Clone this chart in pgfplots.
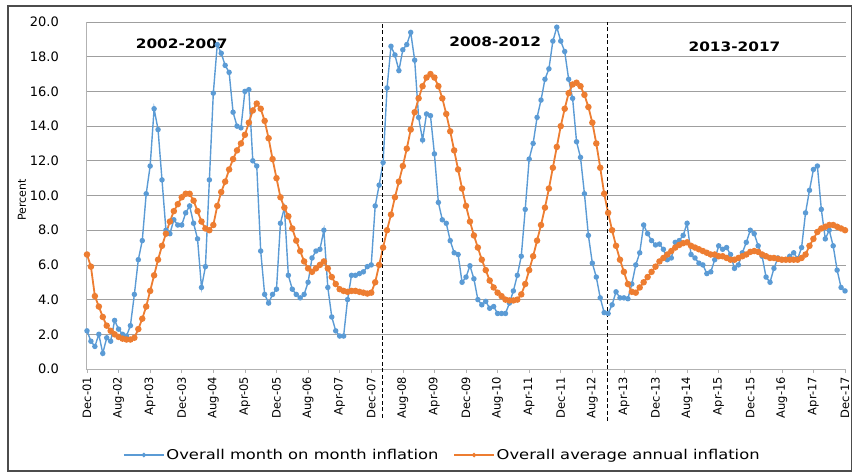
\documentclass[border=0pt]{standalone}
\usepackage{fontspec}
\setmainfont{DejaVu Sans}
\newfontfamily\widefont{DejaVu Sans}[FakeStretch=1.21]
\newfontfamily\titlefont{DejaVu Sans}[FakeStretch=1.18]
\usepackage{pgfplots}
\usepackage{pgfplotstable}
\pgfplotsset{compat=1.18}
\definecolor{cblue}{HTML}{5B9BD5}
\definecolor{corange}{HTML}{ED7D31}

\pgfplotstableread{
m mom avg
0 2.2 6.6
1 1.6 5.9
2 1.3 4.2
3 2.0 3.6
4 0.9 3.0
5 1.8 2.5
6 1.6 2.2
7 2.8 2.0
8 2.3 1.85
9 2.0 1.75
10 1.9 1.7
11 2.5 1.7
12 4.3 1.8
13 6.3 2.3
14 7.4 2.9
15 10.1 3.6
16 11.7 4.5
17 15.0 5.4
18 13.8 6.3
19 10.9 7.1
20 8.0 7.8
21 7.8 8.5
22 8.6 9.1
23 8.3 9.5
24 8.3 9.9
25 9.0 10.1
26 9.4 10.1
27 8.4 9.7
28 7.5 9.1
29 4.7 8.5
30 5.9 8.1
31 10.9 8.0
32 15.9 8.3
33 18.7 9.4
34 18.2 10.2
35 17.5 10.8
36 17.1 11.5
37 14.8 12.1
38 14.0 12.6
39 13.9 13.0
40 16.0 13.5
41 16.1 14.2
42 12.0 14.9
43 11.7 15.3
44 6.8 15.0
45 4.3 14.3
46 3.8 13.3
47 4.3 12.1
48 4.6 11.0
49 8.4 9.9
50 9.3 9.3
51 5.4 8.8
52 4.6 8.1
53 4.3 7.4
54 4.1 6.8
55 4.3 6.2
56 5.0 5.8
57 6.4 5.6
58 6.8 5.8
59 6.9 6.0
60 8.0 6.2
61 4.7 5.8
62 3.0 5.3
63 2.2 4.9
64 1.9 4.6
65 1.9 4.5
66 4.0 4.45
67 5.4 4.5
68 5.4 4.5
69 5.5 4.45
70 5.6 4.4
71 5.9 4.35
72 6.0 4.4
73 9.4 5.0
74 10.6 6.0
75 11.9 7.0
76 16.2 8.0
77 18.6 8.9
78 18.1 9.9
79 17.2 10.8
80 18.4 11.7
81 18.7 12.7
82 19.4 13.8
83 17.8 14.8
84 14.5 15.6
85 13.2 16.3
86 14.7 16.8
87 14.6 17.0
88 12.4 16.8
89 9.6 16.3
90 8.6 15.6
91 8.4 14.7
92 7.4 13.7
93 6.7 12.6
94 6.6 11.5
95 5.0 10.4
96 5.3 9.4
97 5.95 8.5
98 5.2 7.7
99 4.0 7.0
100 3.7 6.3
101 3.9 5.7
102 3.5 5.1
103 3.6 4.7
104 3.2 4.4
105 3.2 4.2
106 3.2 4.0
107 3.8 3.95
108 4.5 3.95
109 5.4 4.0
110 6.5 4.3
111 9.2 4.9
112 12.1 5.7
113 13.0 6.5
114 14.5 7.4
115 15.5 8.3
116 16.7 9.3
117 17.3 10.4
118 18.9 11.6
119 19.7 12.8
120 18.9 14.0
121 18.3 15.0
122 16.7 15.9
123 15.6 16.4
124 13.1 16.5
125 12.2 16.3
126 10.1 15.8
127 7.7 15.1
128 6.1 14.2
129 5.3 13.0
130 4.1 11.6
131 3.25 10.1
132 3.2 9.0
133 3.7 8.0
134 4.45 7.1
135 4.1 6.3
136 4.1 5.6
137 4.05 4.9
138 4.9 4.45
139 6.0 4.4
140 6.7 4.7
141 8.3 5.0
142 7.8 5.3
143 7.4 5.6
144 7.15 5.9
145 7.2 6.2
146 6.9 6.4
147 6.3 6.6
148 6.4 6.8
149 7.3 7.0
150 7.4 7.15
151 7.7 7.25
152 8.4 7.3
153 6.6 7.1
154 6.4 7.0
155 6.1 6.9
156 6.0 6.8
157 5.5 6.7
158 5.6 6.6
159 6.3 6.6
160 7.1 6.5
161 6.9 6.5
162 7.0 6.4
163 6.6 6.3
164 5.8 6.3
165 6.0 6.4
166 6.7 6.5
167 7.3 6.6
168 8.0 6.75
169 7.8 6.8
170 7.1 6.75
171 6.5 6.6
172 5.3 6.5
173 5.0 6.4
174 5.8 6.4
175 6.4 6.35
176 6.3 6.3
177 6.3 6.3
178 6.5 6.3
179 6.7 6.3
180 6.35 6.3
181 7.0 6.4
182 9.0 6.6
183 10.3 7.1
184 11.5 7.5
185 11.7 7.9
186 9.2 8.1
187 7.5 8.2
188 8.0 8.3
189 7.1 8.3
190 5.7 8.2
191 4.7 8.1
192 4.5 8.0
}\datatable

\begin{document}
\begin{tikzpicture}
\useasboundingbox (-86pt,-106pt) rectangle (767pt,369pt);
\draw[line width=1.2pt, black!70] (-78pt,-102pt) rectangle (765.5pt,363pt);
\begin{axis}[
  at={(0pt,0pt)}, anchor=south west,
  scale only axis, width=760pt, height=347pt,
  xmin=-0.25, xmax=192.25, ymin=0, ymax=20,
  clip=false,
  axis x line*=bottom, axis y line*=left,
  axis line style={gray!60, line width=0.8pt, -},
  xtick={0,8,...,192},
  xticklabels={Dec-01,Aug-02,Apr-03,Dec-03,Aug-04,Apr-05,Dec-05,Aug-06,Apr-07,Dec-07,Aug-08,Apr-09,Dec-09,Aug-10,Apr-11,Dec-11,Aug-12,Apr-13,Dec-13,Aug-14,Apr-15,Dec-15,Aug-16,Apr-17,Dec-17},
  xtick style={gray!60, line width=0.6pt},
  major tick length=4pt,
  xtick align=outside,
  xticklabel style={rotate=90, anchor=east, inner sep=0pt, font=\fontsize{11.5}{12}\selectfont},
  xticklabel shift=4pt,
  ytick={0,2,...,20},
  ytick style={draw=none},
  ymajorgrids,
  grid style={gray!75, line width=0.8pt},
  /pgf/number format/assume math mode=true,
  yticklabel style={/pgf/number format/fixed, /pgf/number format/fixed zerofill, /pgf/number format/precision=1, anchor=east, inner sep=0pt, font=\fontsize{13}{14}\selectfont},
  yticklabel shift=27pt,
  ylabel={Percent},
  every axis y label/.style={at={(axis description cs:-0.0842,0.487)}, rotate=90, anchor=center, font=\fontsize{11}{12}\selectfont},
  legend columns=2,
  legend style={at={(axis description cs:0.469,-0.248)}, anchor=center, draw=none, font=\widefont\fontsize{13.5}{14}\selectfont, /tikz/every even column/.append style={column sep=13pt}, inner xsep=0pt},
  legend cell align=left,
  legend image code/.code={\draw[mark repeat=2,mark phase=2, line width=1.2pt, mark size=1.6pt] plot coordinates {(0pt,0pt) (20pt,0pt) (40pt,0pt)};},
]
\addplot[cblue, line width=1.4pt, mark=*, mark size=2.0pt, mark options={fill=cblue, draw=cblue}] table[x=m,y=mom]{\datatable};
\addlegendentry{Overall month on month inflation}
\addplot[corange, line width=1.8pt, mark=*, mark size=2.3pt, mark options={fill=corange, draw=corange}] table[x=m,y=avg]{\datatable};
\addlegendentry{Overall average annual inflation}
\draw[black, line width=0.9pt, dash pattern=on 4pt off 2.5pt] (axis cs:74.8,-2.8) -- (axis cs:74.8,20);
\draw[black, line width=0.9pt, dash pattern=on 4pt off 2.5pt] (axis cs:131.8,-3.0) -- (axis cs:131.8,20);
\node[font=\titlefont\bfseries\fontsize{13}{14}\selectfont] at (axis cs:24,18.75) {2002-2007};
\node[font=\titlefont\bfseries\fontsize{13}{14}\selectfont] at (axis cs:103.4,18.85) {2008-2012};
\node[font=\titlefont\bfseries\fontsize{13}{14}\selectfont] at (axis cs:164,18.6) {2013-2017};
\end{axis}
\end{tikzpicture}
\end{document}
